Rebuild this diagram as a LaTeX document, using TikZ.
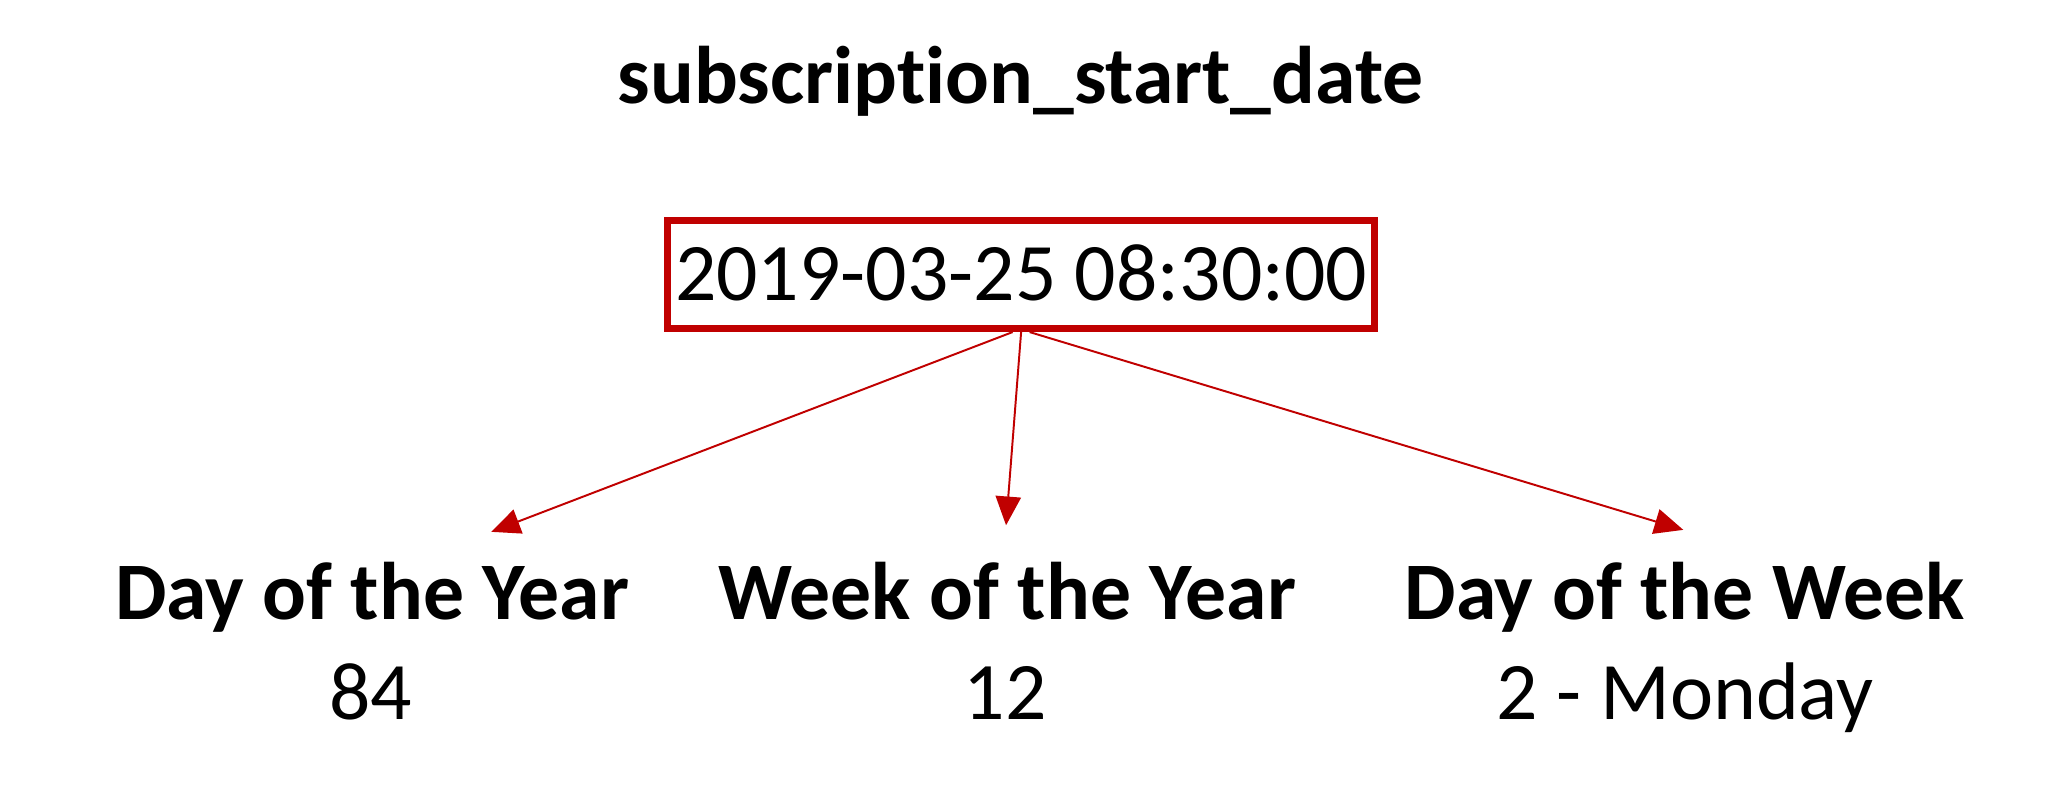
\documentclass[tikz,border=0pt]{standalone}
\usepackage{fontspec}
\setmainfont{Carlito}[Ligatures=NoCommon]
\usetikzlibrary{arrows.meta}
\definecolor{darkred}{HTML}{C00000}

\begin{document}
\begin{tikzpicture}[x=0.02cm,y=-0.02cm,>={Triangle[length=12.5pt,width=11pt]},
  every node/.style={inner sep=0pt},
  stamp/.style={draw=darkred,line width=3pt,minimum width=10.79cm,minimum height=1.655cm,
    font=\fontsize{35.5}{42}\selectfont,text height=22.4pt,text depth=0pt},
  heading/.style={anchor=base,font=\fontsize{35.5}{42}\selectfont\bfseries},
  value/.style={anchor=base,font=\fontsize{35.5}{42}\selectfont},
  link/.style={->,draw=darkred,line width=0.85pt}]
\useasboundingbox (0,0) rectangle (1568,604);
\node[heading] (title) at (779,79) {subscription\_start\_date};
\node[stamp] (ts) at (779.5,209.5) {2019-03-25 08:30:00};
% the three derived features
\node[heading] (doy) at (284,473) {Day of the Year};
\node[heading] (woy) at (769,473) {Week of the Year};
\node[heading] (dow) at (1286,473) {Day of the Week};
\node[value] (doyval) at (283,549) {84};
\node[value] (woyval) at (767.5,549) {12};
\node[value] (dowval) at (1286.5,549) {2 - Monday};
\coordinate (doytip) at (375,406);
\coordinate (woytip) at (768,401);
\coordinate (dowtip) at (1285,404.5);
\draw[link] ([xshift=-3.7pt]ts.south) -- (doytip);
\draw[link] (ts.south) -- (woytip);
\draw[link] ([xshift=3.7pt]ts.south) -- (dowtip);
\end{tikzpicture}
\end{document}
